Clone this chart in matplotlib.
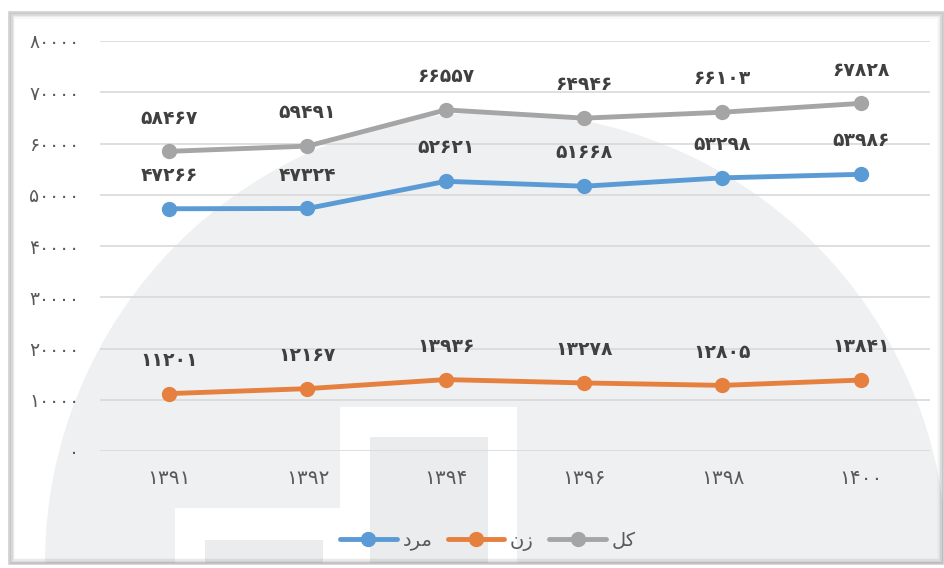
import matplotlib.pyplot as plt
from matplotlib.patches import Rectangle, Ellipse

# داده ها
years = ["1391", "1392", "1394", "1396", "1398", "1400"]
men = [47266, 47324, 52621, 51668, 53298, 53986]
women = [11201, 12167, 13936, 13278, 12805, 13841]
total = [58467, 59491, 66557, 64946, 66103, 67828]
series_names = ["مرد", "زن", "کل"]
y_ticks = [0, 10000, 20000, 30000, 40000, 50000, 60000, 70000, 80000]

colors = ["#5B9BD5", "#E5803F", "#A5A5A5"]

# matplotlib does no Arabic shaping, so map names to presentation forms (visual order)
shaped = {"مرد": "\uFEA9\uFEAE\uFEE3", "زن": "\uFEE5\uFEAF", "کل": "\uFEDE\uFB90"}


def fa(n):
    return str(n).translate(str.maketrans("0123456789", "۰۱۲۳۴۵۶۷۸۹"))


W, H = 945, 568
fig = plt.figure(figsize=(W / 100, H / 100), dpi=100)
plt.rcParams["font.family"] = ["DejaVu Sans"]


def px_rect(x0, y0, x1, y1, **kw):
    # pixel box (top-down) -> figure fraction rectangle
    return Rectangle((x0 / W, 1 - y1 / H), (x1 - x0) / W, (y1 - y0) / H,
                     transform=fig.transFigure, **kw)


# frame with soft shadow
frame = px_rect(9, 12, 943, 563, facecolor="white", edgecolor="none", zorder=-10)
fig.patches.append(frame)
for i, a in enumerate([0.35, 0.2, 0.12, 0.06]):
    fig.patches.append(px_rect(9 + i * 1.5, 12 + i * 1.5, 943 - i * 1.5, 563 - i * 1.5,
                               facecolor="none", edgecolor="#808080", alpha=a,
                               lw=2, zorder=-4))

# background watermark
circ = Ellipse((496 / W, 1 - 563 / H), 2 * 451 / W, 2 * 451 / H,
               transform=fig.transFigure, facecolor="#EFF0F1", edgecolor="none", zorder=-9)
circ.set_clip_path(frame)
fig.patches.append(circ)
fig.patches.append(px_rect(340, 407, 517, 563, facecolor="white", edgecolor="none", zorder=-8))
fig.patches.append(px_rect(175, 508, 340, 563, facecolor="white", edgecolor="none", zorder=-8))
fig.patches.append(px_rect(370, 437, 488, 563, facecolor="#EBECED", edgecolor="none", zorder=-7))
fig.patches.append(px_rect(205, 540, 323, 563, facecolor="#EBECED", edgecolor="none", zorder=-7))

ax = fig.add_axes([100 / W, 1 - 451 / H, 830 / W, 410 / H])
ax.set_facecolor("none")

x = list(range(len(years)))
lines = []
for vals, name, c in zip([men, women, total], series_names, colors):
    ln, = ax.plot(x, vals, color=c, lw=3.5, marker="o", markersize=10,
                  solid_capstyle="round", label=shaped[name], zorder=3)
    lines.append(ln)
    for xi, v in zip(x, vals):
        ax.annotate(fa(v), (xi, v), xytext=(0, 24), textcoords="offset points",
                    ha="center", va="center", fontsize=13.5, fontweight="bold",
                    color="#404040")

ax.set_xlim(-0.5, len(years) - 0.5)
ax.set_ylim(0, 80000)
ax.set_yticks(y_ticks)
ax.set_yticklabels([fa(t) for t in y_ticks])
ax.set_xticks(x)
ax.set_xticklabels([fa(y) for y in years])
ax.tick_params(axis="y", length=0, pad=15, labelsize=13.5, labelcolor="#595959")
ax.tick_params(axis="x", length=0, pad=13, labelsize=14.5, labelcolor="#595959")
ax.grid(axis="y", color="#D9D9D9", lw=1.2)
ax.set_axisbelow(True)
for s in ax.spines.values():
    s.set_visible(False)

fig.legend(handles=lines, loc="center", bbox_to_anchor=(488 / W, 1 - 541 / H),
           ncol=3, frameon=False, fontsize=14, handlelength=2.9,
           handletextpad=0.3, columnspacing=0.8, labelcolor="#595959")

fig.savefig("out.png", dpi=100)
